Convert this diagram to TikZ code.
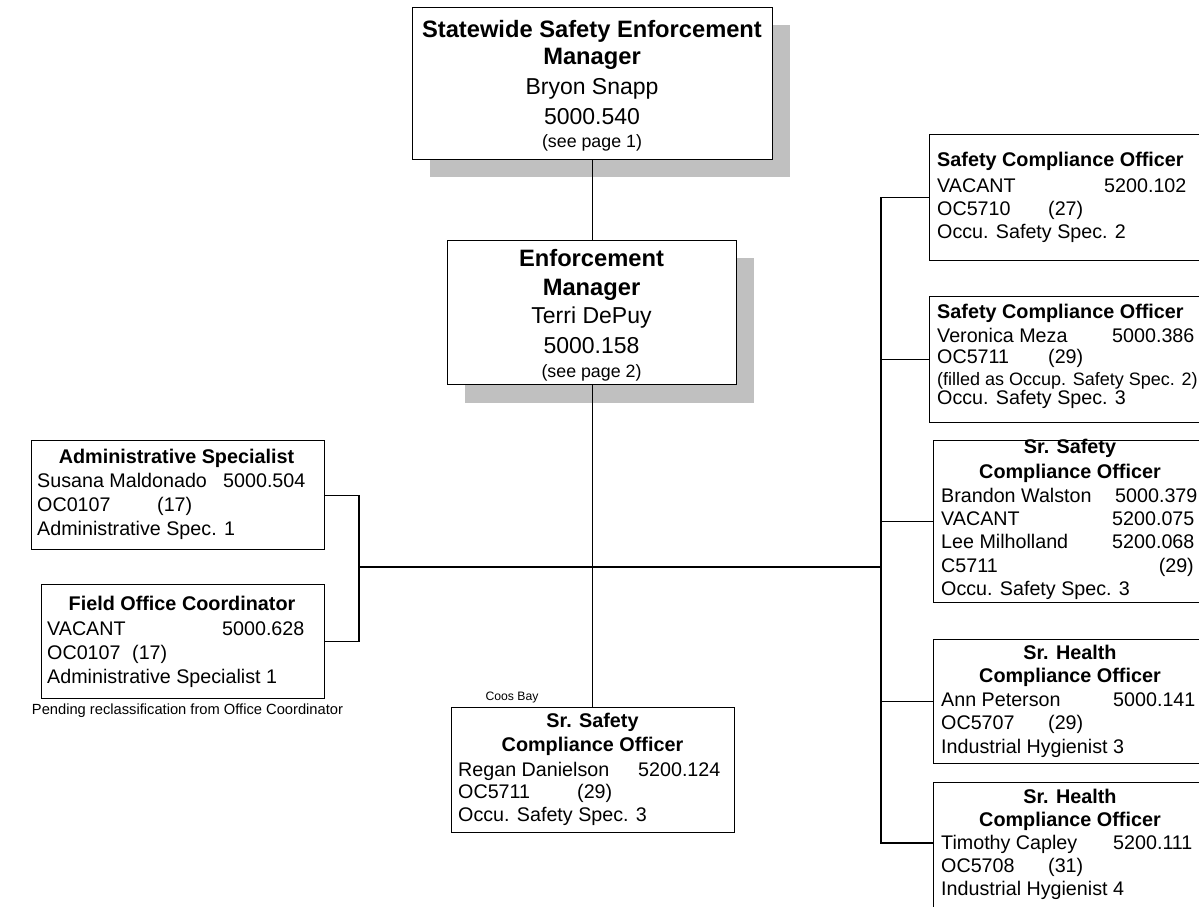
\documentclass[tikz,border=0pt]{standalone}
\usepackage{fontspec}
\setmainfont{Liberation Sans}
\usetikzlibrary{calc}
\definecolor{shadowgray}{RGB}{192,192,192}
\begin{document}
\begin{tikzpicture}[x=1pt,y=-1pt,
  box/.style={draw=black, line width=1.4pt, fill=white, inner sep=0pt, anchor=north west},
  link/.style={draw=black, line width=1.4pt},
  txt/.style={inner sep=0pt, font=\fontsize{19.7}{23}\selectfont},
  ttl/.style={inner sep=0pt, font=\fontsize{19.8}{23}\selectfont\bfseries},
  small/.style={inner sep=0pt, font=\fontsize{18}{21}\selectfont},
  bigttl/.style={inner sep=0pt, font=\fontsize{23.7}{28}\selectfont\bfseries, anchor=base},
  bigtxt/.style={inner sep=0pt, font=\fontsize{23}{28}\selectfont, anchor=base},
  seenote/.style={inner sep=0pt, font=\fontsize{17.8}{21}\selectfont, anchor=base},
  lft/.style={anchor=base west}, ctr/.style={anchor=base}, rgt/.style={anchor=base east}
]
\useasboundingbox (0,0) rectangle (1199,906);
\clip (0,0) rectangle (1199,906);
\fill[white] (0,0) rectangle (1199,906);

% drop shadows of the two manager boxes
\fill[shadowgray] (429.5,24.5) rectangle (790,176.5);
\fill[shadowgray] (465,258) rectangle (754,402.5);

% boxes
\node[box, minimum width=360pt, minimum height=152pt] (sw)   at (412,7)   {};
\node[box, minimum width=289pt, minimum height=144pt] (enf)  at (447,240) {};
\node[box, minimum width=290pt, minimum height=126pt] (b1)   at (929,134) {};
\node[box, minimum width=290pt, minimum height=126pt] (b2)   at (929,296) {};
\node[box, minimum width=286pt, minimum height=124pt] (b4)   at (933,639) {};
\node[box, minimum width=286pt, minimum height=140pt] (b5)   at (933,782) {};
\node[box, minimum width=293pt, minimum height=109pt] (adm)  at (31,440)  {};
\node[box, minimum width=283pt, minimum height=114pt] (fld)  at (41,584)  {};
\node[box, minimum width=283pt, minimum height=125pt] (coos) at (451,707) {};

% connectors
\coordinate (lbus) at (359,567);
\coordinate (rbus) at (881,567);
\coordinate (b5in) at ($(b5.north west)+(0,61)$);
\draw[link] (sw.south) -- (sw.south |- enf.north);
\draw[link] (enf.south) -- (enf.south |- coos.north);
\draw[link] (lbus) -- (rbus);
\draw[link] (adm.east) -| (lbus) |- (fld.east);
\draw[link] (b1.west) -| (rbus) |- (b5in);
\draw[link] (b2.west) -- (b2.west -| rbus);
\draw[link] (b4.west) -- (b4.west -| rbus);

% Statewide Safety Enforcement Manager
\node[bigttl] (swT1) at (592,37.5) {Statewide Safety Enforcement};
\node[bigttl] (swT2) at (592,64.5) {Manager};
\node[bigtxt] (swN)  at (592,94.5) {Bryon Snapp};
\node[bigtxt] (swP)  at (592,124)  {5000.540};
\node[seenote] (swS) at (592,147.5) {(see page 1)};

% Enforcement Manager
\node[bigttl] (enT1) at (591.5,266)   {Enforcement};
\node[bigttl] (enT2) at (591.5,295)   {Manager};
\node[bigtxt] (enN)  at (591.5,323.5) {Terri DePuy};
\node[bigtxt] (enP)  at (591.5,353.5) {5000.158};
\node[seenote] (enS) at (591.5,377)   {(see page 2)};

% Safety Compliance Officer (vacant)
\node[ttl,lft] (b1T) at (937,166)   {Safety Compliance Officer};
\node[txt,lft] (b1N) at (937,192)   {VACANT};
\node[txt,lft] (b1P) at (1104,192)  {5200.102};
\node[txt,lft] (b1C) at (937,215)   {OC5710};
\node[txt,lft] (b1R) at (1048,215)  {(27)};
\node[txt,lft] (b1K) at (937,238.5) {Occu. Safety Spec. 2};

% Safety Compliance Officer (Meza)
\node[ttl,lft] (b2T) at (937,318.5)  {Safety Compliance Officer};
\node[txt,lft] (b2N) at (937,342)    {Veronica Meza};
\node[txt,lft] (b2P) at (1112,342)   {5000.386};
\node[txt,lft] (b2C) at (937,363.5)  {OC5711};
\node[txt,lft] (b2R) at (1048,363.5) {(29)};
\node[small,lft] (b2F) at (937,385)  {(filled as Occup. Safety Spec. 2)};
\node[txt,lft] (b2K) at (937,404.5)  {Occu. Safety Spec. 3};

% Sr. Safety Compliance Officer (three positions)
\node[ttl,ctr] (b3T1) at (1070,453) {Sr. Safety};
\node[ttl,ctr] (b3T2) at (1070,478) {Compliance Officer};
\node[txt,lft] (b3N1) at (941,502)    {Brandon Walston};
\node[txt,lft] (b3P1) at (1115,502)   {5000.379};
\node[txt,lft] (b3N2) at (941,525)    {VACANT};
\node[txt,lft] (b3P2) at (1112,525)   {5200.075};
\node[txt,lft] (b3N3) at (941,548.5)  {Lee Milholland};
\node[txt,lft] (b3P3) at (1112,548.5) {5200.068};
\node[txt,lft] (b3C)  at (941,572)    {C5711};
\node[txt,rgt] (b3R)  at (1194,572)   {(29)};
\node[txt,lft] (b3K)  at (941,595.5)  {Occu. Safety Spec. 3};
% box drawn over its title so the border trims the first line
\node[box, fill=none, minimum width=286pt, minimum height=162pt] (b3) at (933,440) {};
\draw[link] (b3.west) -- (b3.west -| rbus);

% Sr. Health Compliance Officer (Peterson)
\node[ttl,ctr] (b4T1) at (1070,659)   {Sr. Health};
\node[ttl,ctr] (b4T2) at (1070,682.5) {Compliance Officer};
\node[txt,lft] (b4N)  at (941,706)    {Ann Peterson};
\node[txt,lft] (b4P)  at (1113,706)   {5000.141};
\node[txt,lft] (b4C)  at (941,729.5)  {OC5707};
\node[txt,lft] (b4R)  at (1048,729.5) {(29)};
\node[txt,lft] (b4K)  at (941,753)    {Industrial Hygienist 3};

% Sr. Health Compliance Officer (Capley)
\node[ttl,ctr] (b5T1) at (1070,803) {Sr. Health};
\node[ttl,ctr] (b5T2) at (1070,826) {Compliance Officer};
\node[txt,lft] (b5N)  at (941,849)  {Timothy Capley};
\node[txt,lft] (b5P)  at (1113,849) {5200.111};
\node[txt,lft] (b5C)  at (941,872)  {OC5708};
\node[txt,lft] (b5R)  at (1048,872) {(31)};
\node[txt,lft] (b5K)  at (941,895)  {Industrial Hygienist 4};

% Administrative Specialist
\node[ttl,ctr] (admT) at (176.5,463) {Administrative Specialist};
\node[txt,lft] (admN) at (37,487)    {Susana Maldonado};
\node[txt,lft] (admP) at (223,487)   {5000.504};
\node[txt,lft] (admC) at (37,511.5)  {OC0107};
\node[txt,lft] (admR) at (157,511.5) {(17)};
\node[txt,lft] (admK) at (37,535.5)  {Administrative Spec. 1};

% Field Office Coordinator
\node[ttl,ctr] (fldT) at (182,610) {Field Office Coordinator};
\node[txt,lft] (fldN) at (47,635)  {VACANT};
\node[txt,lft] (fldP) at (222,635) {5000.628};
\node[txt,lft] (fldC) at (47,659)  {OC0107};
\node[txt,lft] (fldR) at (132,659) {(17)};
\node[txt,lft] (fldK) at (47,683)  {Administrative Specialist 1};
\node[inner sep=0pt, font=\fontsize{14.7}{17}\selectfont, anchor=base] (fldNote) at (187.5,714)
  {Pending reclassification from Office Coordinator};

% Sr. Safety Compliance Officer, Coos Bay
\node[inner sep=0pt, font=\fontsize{12.2}{14}\selectfont, anchor=base] (coosLoc) at (512,700.5) {Coos Bay};
\node[ttl,ctr] (coT1) at (592.5,727)   {Sr. Safety};
\node[ttl,ctr] (coT2) at (592.5,751.5) {Compliance Officer};
\node[txt,lft] (coN)  at (458,776)     {Regan Danielson};
\node[txt,lft] (coP)  at (638,776)     {5200.124};
\node[txt,lft] (coC)  at (458,798.5)   {OC5711};
\node[txt,lft] (coR)  at (577,798.5)   {(29)};
\node[txt,lft] (coK)  at (458,821.5)   {Occu. Safety Spec. 3};
\end{tikzpicture}
\end{document}
